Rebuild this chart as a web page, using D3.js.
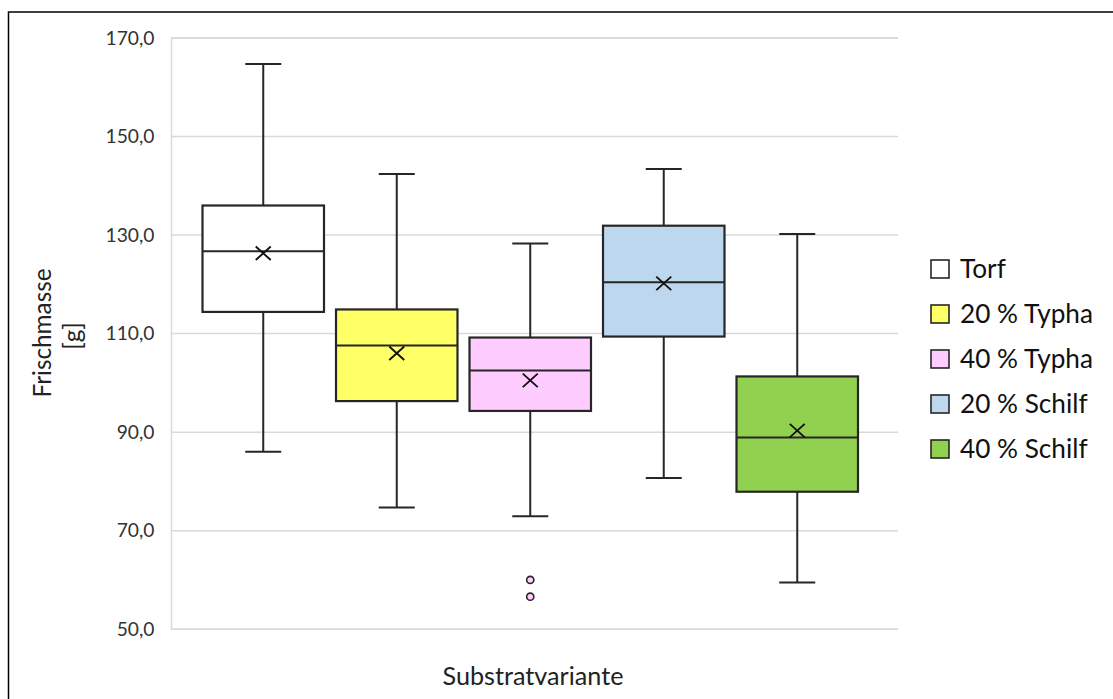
<!DOCTYPE html>
<html><head><meta charset="utf-8">
<script src="https://cdn.jsdelivr.net/npm/d3@7"></script>
<style>body{margin:0;background:#fff} svg{display:block}</style>
</head><body><svg id="c" width="1113" height="699"></svg>
<script>
const series = ["Torf","20 % Typha","40 % Typha","20 % Schilf","40 % Schilf"];
const colors = ["#FFFFFF","#FFFF66","#FFCCFF","#BDD7EE","#92D050"];
const whiskerLow = [85.9,74.6,72.8,80.6,59.4];
const q1 = [114.3,96.2,94.2,109.3,77.8];
const median = [126.6,107.5,102.4,120.3,88.8];
const q3 = [135.9,114.8,109.1,131.8,101.2];
const whiskerHigh = [164.6,142.3,128.2,143.3,130.1];
const mean = [126.2,105.9,100.4,120.1,90.2];
const outliers = [[],[],[59.9,56.5],[],[]];
const yTicks = [50,70,90,110,130,150,170];
const yTitle = ["Frischmasse","[g]"];
const xTitle = "Substratvariante";

const FONT = "Lato, 'Open Sans', sans-serif";
const INK = "#262626";
const svg = d3.select("#c");
const plot = {left:171, right:898, top:37.5, bottom:628.7};

// frame (only top/left visible)
svg.append("rect").attr("x",8.5).attr("y",12).attr("width",1300).attr("height",1000)
  .attr("fill","none").attr("stroke","#000").attr("stroke-width",1.5);

const y = d3.scaleLinear().domain([50,170]).range([plot.bottom, plot.top]);
const x = d3.scaleBand().domain(series).range([plot.left+25.5, plot.left+693]);
const bw = x.bandwidth()*0.91;
const capW = 36;

function fitSize(sel, target){
  const fs = parseFloat(sel.attr("font-size"));
  const w = sel.node().getComputedTextLength();
  return fs*target/w;
}

// gridlines + tick labels
const fmt = d => d3.format(".1f")(d).replace(".",",");
const yAxis = d3.axisLeft(y).tickValues(yTicks).tickSize(-(plot.right-plot.left)).tickFormat(fmt);
const ga = svg.append("g").attr("transform",`translate(${plot.left},0)`).call(yAxis);
ga.select(".domain").attr("stroke","#d9d9d9").attr("stroke-width",1.5);
ga.selectAll(".tick line").attr("stroke","#d9d9d9").attr("stroke-width",1.5);
ga.selectAll(".tick text").attr("font-family",FONT).attr("font-size",18).attr("fill","#333")
  .attr("x",-16.5).attr("dy","0.34em");
const t170 = ga.selectAll(".tick text").filter(function(){return d3.select(this).text()==="170,0";});
const fsTick = fitSize(t170,49);
ga.selectAll(".tick text").attr("font-size",fsTick);
ga.attr("font-family",null).attr("font-size",null);

// boxes
const g = svg.append("g");
series.forEach((s,i)=>{
  const cx = x(s)+x.bandwidth()/2;
  const gi = g.append("g");
  gi.append("line").attr("x1",cx).attr("x2",cx).attr("y1",y(whiskerHigh[i])).attr("y2",y(q3[i]))
    .attr("stroke",INK).attr("stroke-width",2);
  gi.append("line").attr("x1",cx).attr("x2",cx).attr("y1",y(q1[i])).attr("y2",y(whiskerLow[i]))
    .attr("stroke",INK).attr("stroke-width",2);
  [whiskerHigh[i], whiskerLow[i]].forEach(v=>{
    gi.append("line").attr("x1",cx-capW/2).attr("x2",cx+capW/2).attr("y1",y(v)).attr("y2",y(v))
      .attr("stroke",INK).attr("stroke-width",2);
  });
  gi.append("rect").attr("x",cx-bw/2).attr("width",bw).attr("y",y(q3[i])).attr("height",y(q1[i])-y(q3[i]))
    .attr("fill",colors[i]).attr("stroke",INK).attr("stroke-width",2.2);
  gi.append("line").attr("x1",cx-bw/2).attr("x2",cx+bw/2).attr("y1",y(median[i])).attr("y2",y(median[i]))
    .attr("stroke",INK).attr("stroke-width",2);
  const my = y(mean[i]), m = 7.5;
  gi.append("path").attr("d",`M${cx-m},${my-m*0.9}L${cx+m},${my+m*0.9}M${cx-m},${my+m*0.9}L${cx+m},${my-m*0.9}`)
    .attr("stroke","#111").attr("stroke-width",1.9).attr("fill","none");
  outliers[i].forEach(v=>{
    gi.append("circle").attr("cx",cx).attr("cy",y(v)).attr("r",3.6)
      .attr("fill",colors[i]).attr("stroke",INK).attr("stroke-width",1.6);
  });
});

// legend
const leg = svg.append("g");
series.forEach((s,i)=>{
  const cy = 269 + i*45;
  leg.append("rect").attr("x",931).attr("y",cy-9).attr("width",18).attr("height",18)
    .attr("fill",colors[i]).attr("stroke",INK).attr("stroke-width",1.6);
  leg.append("text").attr("x",960).attr("y",cy).attr("dy","0.36em")
    .attr("font-family",FONT).attr("font-size",21).attr("fill","#111").text(s);
});
const tRef = leg.selectAll("text").filter(function(){return d3.select(this).text()==="20 % Typha";});
leg.selectAll("text").attr("font-size",fitSize(tRef,133));

// axis titles
const xt = svg.append("text").attr("x",533).attr("y",685).attr("text-anchor","middle")
  .attr("font-family",FONT).attr("font-size",20).attr("fill","#222").text(xTitle);
xt.attr("font-size",fitSize(xt,181));
const yt1 = svg.append("text").attr("transform","translate(42,333) rotate(-90)").attr("text-anchor","middle")
  .attr("dy","0.35em").attr("font-family",FONT).attr("font-size",20).attr("fill","#222").text(yTitle[0]);
const fsY = fitSize(yt1,129);
yt1.attr("font-size",fsY);
svg.append("text").attr("transform","translate(72,336) rotate(-90)").attr("text-anchor","middle")
  .attr("dy","0.35em").attr("font-family",FONT).attr("font-size",fsY).attr("fill","#222").text(yTitle[1]);
</script></body></html>
